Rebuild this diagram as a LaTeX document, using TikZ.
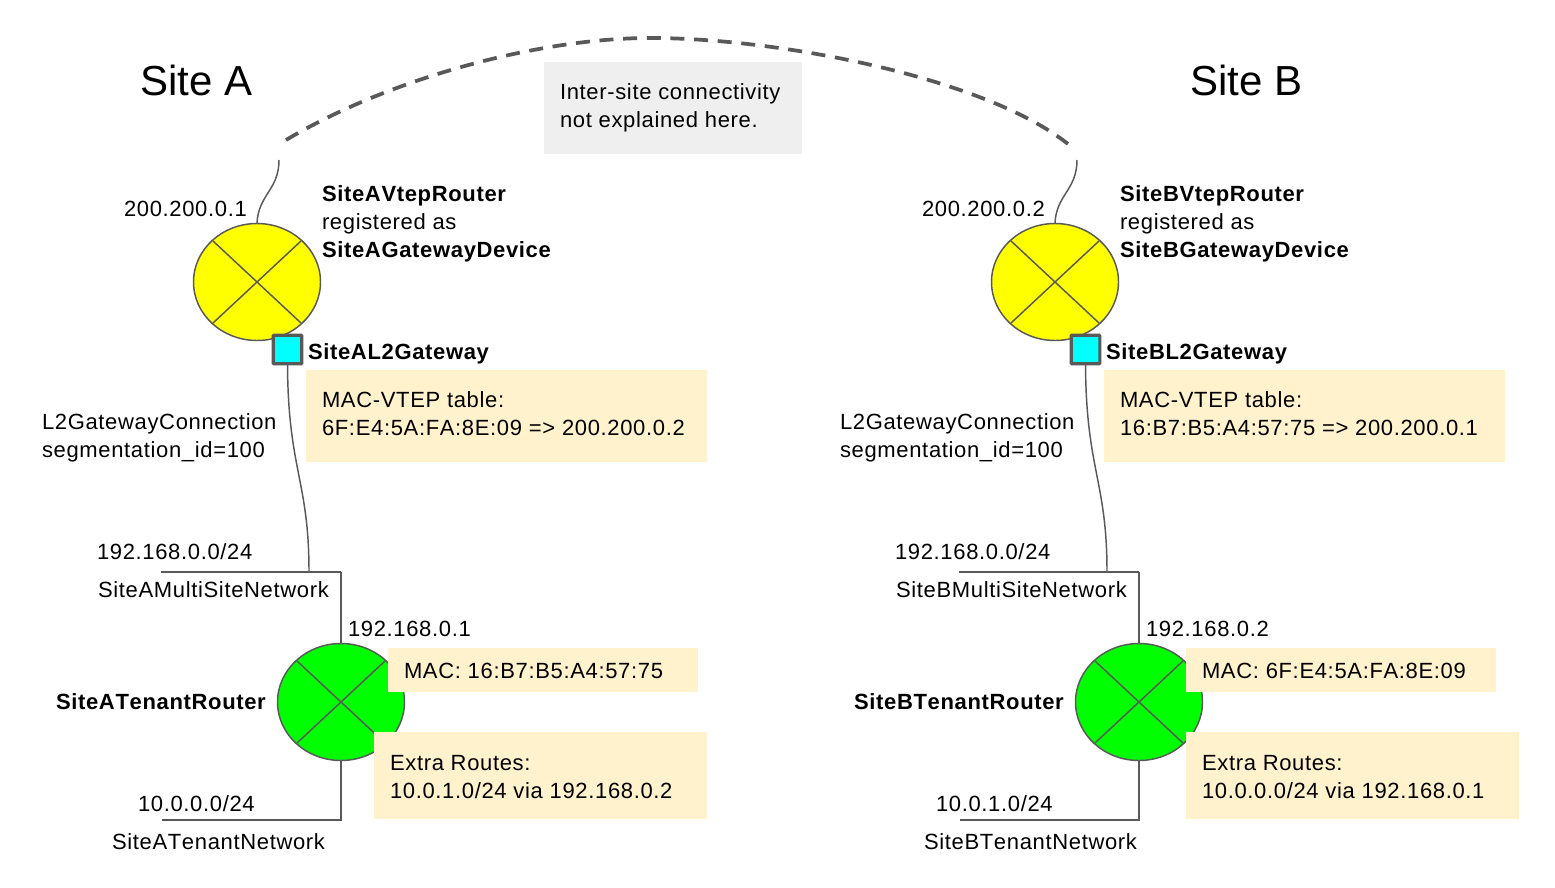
\documentclass[tikz,border=0pt]{standalone}
\usetikzlibrary{shapes.geometric}
\usepackage{fontspec}
\setmainfont[LetterSpace=3.0,Kerning=Off]{Liberation Sans}
\newfontfamily\titlefont{Liberation Sans}
\definecolor{linegray}{HTML}{595959}
\definecolor{tan}{HTML}{FFF2CC}
\definecolor{notegray}{HTML}{EFEFEF}
\definecolor{routeryellow}{HTML}{FFFF00}
\definecolor{routergreen}{HTML}{00FF00}
\definecolor{portcyan}{HTML}{00FFFF}
\tikzset{
  lbl/.style={anchor=base west,inner sep=0pt,outer sep=0pt,font=\fontsize{16.5pt}{21pt}\selectfont,text=black},
  blbl/.style={lbl,yshift=0.4pt},
  title/.style={anchor=base west,inner sep=0pt,outer sep=0pt,font=\titlefont\fontsize{31.5pt}{36pt}\selectfont,text=black},
  wire/.style={draw=linegray,line width=1.1pt},
  notebox/.style={fill=tan,draw=none},
  router/.style={ellipse,draw=linegray,line width=1.1pt,minimum width=95.25pt,minimum height=87.75pt,inner sep=0pt,outer sep=0pt},
  port/.style={rectangle,fill=portcyan,draw=linegray,line width=2.4pt,rounded corners=0.6pt,minimum size=21.5pt,inner sep=0pt,outer sep=0pt}
}
% #1 site letter
\newcommand{\sitepart}[1]{%
  \node[router,fill=routeryellow] (vtep#1) at (257,282) {};
  \draw[wire] (213,241) -- (301,323);
  \draw[wire] (301,241) -- (213,323);
  \node[port] (port#1) at (287.5,349.5) {};
  \coordinate (up#1) at (279,160);
  \draw[wire] (vtep#1.north) .. controls (258,195) and (279,190) .. (up#1);
  \coordinate (left#1) at (161,572);
  \coordinate (corner#1) at (341,572);
  \coordinate (tap#1) at (309,572);
  \draw[wire] (left#1) -- (corner#1);
  \draw[wire] (port#1.south) .. controls (288,470) and (309,480) .. (tap#1);
  \node[router,fill=routergreen] (tenant#1) at (341,702) {};
  \draw[wire] (297,661) -- (385,743);
  \draw[wire] (385,661) -- (297,743);
  \draw[wire] (corner#1) -- (tenant#1.north);
  \coordinate (bot#1) at (341,820);
  \coordinate (botleft#1) at (162,820);
  \draw[wire] (tenant#1.south) -- (bot#1) -- (botleft#1);
  \node[notebox,minimum width=300.75pt,minimum height=69.5pt,inner sep=0pt,anchor=north west] (tbl#1) at (306,369.5) {};
  \node[notebox,minimum width=232.5pt,minimum height=33pt,inner sep=0pt,anchor=north west] (mac#1) at (388,648) {};
}
\begin{document}
\begin{tikzpicture}[x=0.75pt,y=-0.75pt]
\useasboundingbox (0,0) rectangle (1555,888);
\node[fill=notegray,minimum width=193.5pt,minimum height=69.5pt,inner sep=0pt,anchor=north west] (note) at (544,61.5) {};
\coordinate (dashA) at (286,140);
\coordinate (dashB) at (1068,144);
\draw[draw=linegray,line width=2.8pt,dash pattern=on 10.5pt off 7.25pt] (dashA) .. controls (390,78) and (540,38) .. (650,38) .. controls (780,38) and (985,78) .. (dashB);
\node[lbl] (notea) at (560,100) {Inter-site connectivity};
\node[lbl] (noteb) at (560,128) {not explained here.};
% site A
\sitepart{A}
\node[notebox,minimum width=249.75pt,minimum height=65.25pt,inner sep=0pt,anchor=north west] (extraA) at (374,732) {};
\node[title] (titleA) at (140,96) {Site A};
\node[blbl] at (322,202) {\textbf{SiteAVtepRouter}};
\node[blbl] at (322,230) {registered as};
\node[blbl] at (322,258) {\textbf{SiteAGatewayDevice}};
\node[lbl] at (124,216) {200.200.0.1};
\node[blbl] at (308,360) {\textbf{SiteAL2Gateway}};
\node[lbl] at (322,407) {MAC-VTEP table:};
\node[lbl] at (322,435) {6F:E4:5A:FA:8E:09 => 200.200.0.2};
\node[blbl] at (42,430) {L2GatewayConnection};
\node[blbl] at (42,458) {segmentation\_id=100};
\node[lbl] at (97,559) {192.168.0.0/24};
\node[lbl] at (98,597) {SiteAMultiSiteNetwork};
\node[lbl] at (348,636) {192.168.0.1};
\node[lbl] at (404,678) {MAC: 16:B7:B5:A4:57:75};
\node[blbl] at (56,710) {\textbf{SiteATenantRouter}};
\node[lbl] at (390,770) {Extra Routes:};
\node[lbl] at (390,798) {10.0.1.0/24 via 192.168.0.2};
\node[lbl] at (138,811) {10.0.0.0/24};
\node[blbl] at (112,850) {SiteATenantNetwork};
% site B
\begin{scope}[xshift=598.5pt]
\sitepart{B}
\end{scope}
\node[notebox,minimum width=249.75pt,minimum height=65.25pt,inner sep=0pt,anchor=north west] (extraB) at (1186,732) {};
\node[title] (titleB) at (1190,96) {Site B};
\node[blbl] at (1120,202) {\textbf{SiteBVtepRouter}};
\node[blbl] at (1120,230) {registered as};
\node[blbl] at (1120,258) {\textbf{SiteBGatewayDevice}};
\node[lbl] at (922,216) {200.200.0.2};
\node[blbl] at (1106,360) {\textbf{SiteBL2Gateway}};
\node[lbl] at (1120,407) {MAC-VTEP table:};
\node[lbl] at (1120,435) {16:B7:B5:A4:57:75 => 200.200.0.1};
\node[blbl] at (840,430) {L2GatewayConnection};
\node[blbl] at (840,458) {segmentation\_id=100};
\node[lbl] at (895,559) {192.168.0.0/24};
\node[lbl] at (896,597) {SiteBMultiSiteNetwork};
\node[lbl] at (1146,636) {192.168.0.2};
\node[lbl] at (1202,678) {MAC: 6F:E4:5A:FA:8E:09};
\node[blbl] at (854,710) {\textbf{SiteBTenantRouter}};
\node[lbl] at (1202,770) {Extra Routes:};
\node[lbl] at (1202,798) {10.0.0.0/24 via 192.168.0.1};
\node[lbl] at (936,811) {10.0.1.0/24};
\node[blbl] at (924,850) {SiteBTenantNetwork};
\end{tikzpicture}
\end{document}
